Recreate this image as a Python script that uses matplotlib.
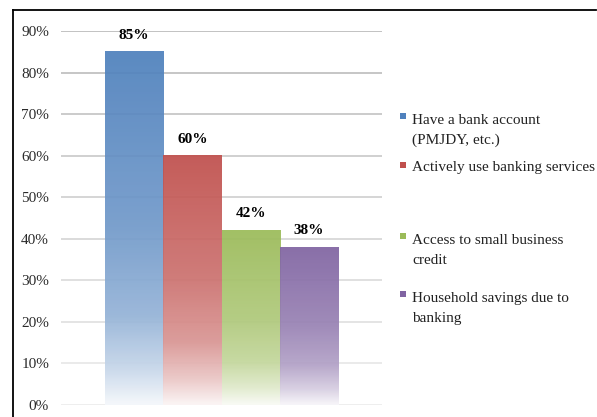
import numpy as np
import matplotlib
matplotlib.use("Agg")
import matplotlib.pyplot as plt
from matplotlib.colors import to_rgb
from matplotlib.patches import Rectangle
from matplotlib.lines import Line2D

plt.rcParams['font.family'] = ['Liberation Serif', 'DejaVu Serif']

# data
labels = ["Have a bank account\n(PMJDY, etc.)",
          "Actively use banking services",
          "Access to small business\ncredit",
          "Household savings due to\nbanking"]
values = [0.85, 0.60, 0.42, 0.38]
colors = ["#4F81BD", "#C0504D", "#9BBB59", "#8064A2"]
yticks = [0.0, 0.1, 0.2, 0.3, 0.4, 0.5, 0.6, 0.7, 0.8, 0.9]

fig = plt.figure(figsize=(5.97, 4.17), dpi=100)
ax = fig.add_axes([61/597, 1 - 405/417, 321/597, 374/417])

# excel style clustered bars, gap width 150%
gap = 1.5
n = len(values)
bw = 1.0 / (n + gap)
x0 = 0.5 - n * bw / 2
xs = [x0 + bw * (i + 0.5) for i in range(n)]
bars = ax.bar(xs, values, width=bw, color='none', edgecolor='none', zorder=2)

# fade each bar from solid at top to near white at bottom
f_stops = [0.0, 0.5, 0.75, 0.9, 1.0]
t_stops = [0.0, 0.2, 0.4, 0.68, 0.94]
f = np.linspace(0, 1, 200)
tint = np.interp(f, f_stops, t_stops)
for rect, c in zip(bars, colors):
    rgb = np.array(to_rgb(c))
    grad = rgb[None, :] * (1 - tint[:, None]) + tint[:, None]
    img = np.repeat(grad[:, None, :], 2, axis=1)
    x, y = rect.get_x(), rect.get_y()
    w, h = rect.get_width(), rect.get_height()
    ax.imshow(img, extent=[x, x + w, y, y + h], origin='upper',
              aspect='auto', zorder=2, alpha=0.93, interpolation='bilinear')

ax.set_xlim(0, 1)
ax.set_ylim(0, 0.9)

# gridlines fade toward the bottom
for v in yticks:
    g = np.interp(v, [0, 0.9], [0.93, 0.74])
    ax.axhline(v, color=(g, g, g), lw=1.3, zorder=1)

for rect, v in zip(bars, values):
    ax.annotate(f"{round(v * 100)}%",
                (rect.get_x() + rect.get_width() / 2, rect.get_height()),
                xytext=(0, 9.4), textcoords='offset points',
                ha='center', va='baseline', fontsize=11, fontweight='bold',
                color='black', zorder=4)

ax.set_yticks(yticks)
ax.set_yticklabels([f"{round(v * 100)}%" for v in yticks])
ax.set_xticks([])
ax.tick_params(axis='y', length=0, pad=8.6, labelsize=11, labelcolor='#2b2b2b')
for s in ax.spines.values():
    s.set_visible(False)

# legend drawn by hand to keep Excel's uneven spacing
leg_base = [122, 171, 242, 300]   # baseline of first line, px from top
line_px = 22
for lab, c, yb in zip(labels, colors, leg_base):
    fig.patches.append(Rectangle((400/597, 1 - (yb - 3) / 417), 6/597, 6/417,
                                 transform=fig.transFigure, facecolor=c,
                                 edgecolor='none'))
    # baseline alignment uses the last line, so shift multi-line labels down
    extra = lab.count("\n") * line_px
    fig.text(412/597, 1 - (yb + extra)/417, lab, fontsize=11, va='baseline',
             ha='left', color='#222222', linespacing=1.68)

# outer frame of the cropped figure
fig.add_artist(Line2D([13/597, 596/597], [1 - 10/417, 1 - 10/417],
                      color='black', lw=1.3, transform=fig.transFigure))
fig.add_artist(Line2D([13/597, 13/597], [1 - 10/417, 0],
                      color='black', lw=1.3, transform=fig.transFigure))

fig.savefig("out.png", dpi=100)
